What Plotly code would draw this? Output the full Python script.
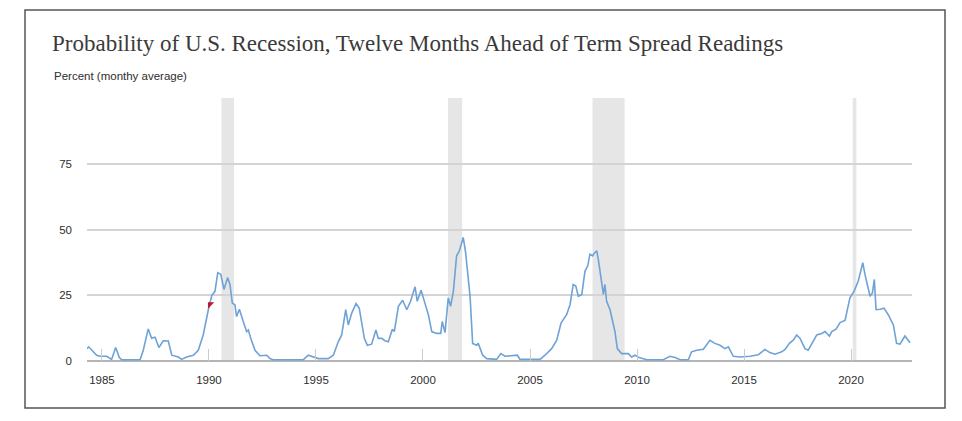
import plotly.graph_objects as go

# Recession probability (decimal year, percent)
years = [
    1984.30, 1984.38, 1984.75, 1984.90, 1985.22, 1985.45, 1985.64, 1985.81, 1985.92,
    1986.78, 1986.93, 1987.16, 1987.32, 1987.48, 1987.66, 1987.86, 1988.10, 1988.26,
    1988.57, 1988.72, 1988.96, 1989.27, 1989.50, 1989.73, 1989.97, 1990.13, 1990.28,
    1990.41, 1990.55, 1990.70, 1990.87, 1990.98, 1991.09, 1991.21, 1991.29, 1991.42,
    1991.60, 1991.76, 1991.84, 1991.95, 1992.15, 1992.38, 1992.70, 1992.85, 1993.00,
    1994.41, 1994.64, 1994.87, 1995.11, 1995.57, 1995.81, 1996.04, 1996.20, 1996.39,
    1996.51, 1996.67, 1996.87, 1997.02, 1997.14, 1997.26, 1997.40, 1997.60, 1997.80,
    1997.91, 1998.07, 1998.22, 1998.38, 1998.57, 1998.66, 1998.85, 1999.05, 1999.24,
    1999.42, 1999.63, 1999.73, 1999.91, 2000.09, 2000.25, 2000.41, 2000.64, 2000.83,
    2000.90, 2001.03, 2001.18, 2001.29, 2001.42, 2001.57, 2001.70, 2001.88, 2001.99,
    2002.20, 2002.32, 2002.51, 2002.58, 2002.79, 2002.98, 2003.44, 2003.64, 2003.83,
    2004.07, 2004.41, 2004.53, 2005.47, 2005.70, 2006.01, 2006.25, 2006.45, 2006.71,
    2006.87, 2007.02, 2007.14, 2007.26, 2007.42, 2007.57, 2007.70, 2007.80, 2007.93,
    2008.00, 2008.12, 2008.19, 2008.35, 2008.43, 2008.50, 2008.58, 2008.74, 2008.86,
    2008.97, 2009.08, 2009.28, 2009.59, 2009.75, 2009.91, 2010.10, 2010.45, 2011.23,
    2011.54, 2011.78, 2012.01, 2012.40, 2012.55, 2012.79, 2013.10, 2013.41, 2013.64,
    2013.88, 2014.11, 2014.27, 2014.50, 2014.81, 2015.28, 2015.67, 2015.98, 2016.21,
    2016.45, 2016.76, 2016.92, 2017.12, 2017.30, 2017.46, 2017.62, 2017.85, 2018.00,
    2018.24, 2018.40, 2018.63, 2018.79, 2018.99, 2019.10, 2019.30, 2019.49, 2019.72,
    2019.80, 2019.95, 2020.14, 2020.34, 2020.55, 2020.65, 2020.89, 2021.00, 2021.09,
    2021.17, 2021.36, 2021.54, 2021.74, 2021.98, 2022.13, 2022.29, 2022.52, 2022.76,
]
probability = [
    4.7, 5.4, 2.2, 1.8, 1.8, 0.6, 5.1, 1.3, 0.5,
    0.5, 4.1, 12.2, 8.6, 9.0, 5.1, 7.7, 7.6, 2.2,
    1.5, 0.6, 1.5, 2.2, 4.1, 9.9, 19.5, 24.9, 26.5,
    33.6, 33.0, 27.2, 31.7, 29.1, 22.0, 21.4, 16.9, 19.7,
    15.0, 11.2, 11.8, 8.6, 4.1, 2.0, 2.2, 0.9, 0.5,
    0.5, 2.2, 1.5, 0.9, 0.9, 2.2, 7.3, 9.9, 19.5,
    13.7, 18.2, 21.8, 20.1, 15.0, 8.6, 6.0, 6.4, 11.8,
    8.6, 8.6, 7.7, 7.3, 12.1, 11.2, 20.8, 23.1, 19.5,
    22.7, 28.2, 22.7, 26.9, 22.0, 17.6, 11.2, 10.5, 10.5,
    15.0, 10.8, 24.0, 20.8, 26.5, 40.0, 41.9, 47.0, 41.3,
    24.6, 6.7, 6.0, 6.7, 2.2, 0.9, 0.6, 2.8, 1.8,
    1.9, 2.2, 0.6, 0.6, 2.2, 4.7, 7.9, 14.4, 17.6,
    21.4, 29.1, 28.5, 24.6, 25.3, 34.2, 36.2, 40.6, 40.0,
    41.0, 41.9, 38.7, 28.5, 25.3, 29.1, 22.7, 19.5, 15.6,
    11.2, 4.7, 2.8, 2.8, 1.5, 2.2, 1.3, 0.5, 0.5,
    1.8, 1.3, 0.5, 0.5, 3.5, 4.1, 4.5, 7.9, 6.7,
    6.0, 4.7, 5.4, 1.8, 1.5, 1.8, 2.4, 4.4, 3.2,
    2.6, 3.5, 4.4, 6.7, 7.9, 9.9, 8.6, 4.7, 4.1,
    7.3, 9.9, 10.5, 11.2, 9.5, 11.2, 12.1, 14.6, 15.4,
    18.2, 24.0, 26.5, 30.4, 37.4, 33.0, 24.6, 25.9, 31.0,
    19.5, 19.7, 20.1, 17.6, 13.7, 6.7, 6.4, 9.5, 6.9,
]

# NBER recessions (shaded)
recession_start = [1990.58, 2001.17, 2007.92, 2020.08]
recession_end = [1991.17, 2001.83, 2009.42, 2020.25]

x_ticks = [1985, 1990, 1995, 2000, 2005, 2010, 2015, 2020]
y_ticks = [0, 25, 50, 75, 100]
y_tick_text = ["0", "25", "50", "75", ""]

# mouse pointer captured in the screenshot
cursor_x = [1990.05]
cursor_y = [21.5]

# the page body adds an 8px margin, so the figure is sized to fit inside it
W, H = 946, 405
PLOT_L, PLOT_R, PLOT_T, PLOT_B = 79, 904, 90, 353
PLOT_W, PLOT_H = PLOT_R - PLOT_L, PLOT_B - PLOT_T

fig = go.Figure()

for start, end in zip(recession_start, recession_end):
    fig.add_vrect(x0=start, x1=end, fillcolor="#e6e6e6", line_width=0, layer="below")

fig.add_trace(
    go.Scatter(
        x=years,
        y=probability,
        mode="lines",
        line=dict(color="#6fa2d6", width=1.6),
        hoverinfo="x+y",
    )
)

fig.add_trace(
    go.Scatter(
        x=cursor_x,
        y=cursor_y,
        mode="markers",
        marker=dict(symbol="triangle-nw", size=7, color="#c0152f"),
        hoverinfo="skip",
    )
)

fig.update_layout(
    width=W,
    height=H,
    paper_bgcolor="white",
    plot_bgcolor="white",
    showlegend=False,
    margin=dict(l=PLOT_L, r=W - PLOT_R, t=PLOT_T, b=H - PLOT_B),
    font=dict(family="Liberation Sans, Arial, sans-serif", size=11, color="#333333"),
    title=dict(
        text="Probability of U.S. Recession, Twelve Months Ahead of Term Spread Readings",
        font=dict(family="Liberation Serif, Times New Roman, serif", size=23, color="#3a3a3a"),
        x=44 / W,
        xanchor="left",
        xref="container",
        y=1 - 35 / H,
        yanchor="middle",
        yref="container",
    ),
    xaxis=dict(
        range=[1984.3, 2022.85],
        tickvals=x_ticks,
        ticktext=[str(t) for t in x_ticks],
        ticks="inside",
        ticklen=12,
        tickcolor="#cccccc",
        tickwidth=1,
        ticklabelstandoff=10,
        showgrid=False,
        zeroline=False,
        showline=False,
        tickfont=dict(size=11.5, color="#2e2e2e"),
    ),
    yaxis=dict(
        range=[0, 100],
        tickvals=y_ticks,
        ticktext=y_tick_text,
        showgrid=True,
        gridcolor="#d4d4d4",
        gridwidth=1.5,
        zeroline=True,
        zerolinecolor="#b5b5b5",
        zerolinewidth=2,
        ticks="",
        ticklabelstandoff=14,
        tickfont=dict(size=11.5, color="#2e2e2e"),
    ),
)

fig.add_annotation(
    text="Percent (monthy average)",
    xref="paper",
    yref="paper",
    x=(44 - PLOT_L) / PLOT_W,
    y=(PLOT_B - 68) / PLOT_H,
    xanchor="left",
    yanchor="middle",
    showarrow=False,
    font=dict(family="Liberation Sans, Arial, sans-serif", size=11.5, color="#2e2e2e"),
)

# outer frame around the whole chart
fig.add_shape(
    type="rect",
    xref="paper",
    yref="paper",
    x0=(17 - PLOT_L) / PLOT_W,
    x1=(937 - PLOT_L) / PLOT_W,
    y0=(PLOT_B - 400) / PLOT_H,
    y1=(PLOT_B - 2) / PLOT_H,
    line=dict(color="#555555", width=1.5),
    fillcolor="rgba(0,0,0,0)",
    layer="above",
)

fig.write_html("out.html")
